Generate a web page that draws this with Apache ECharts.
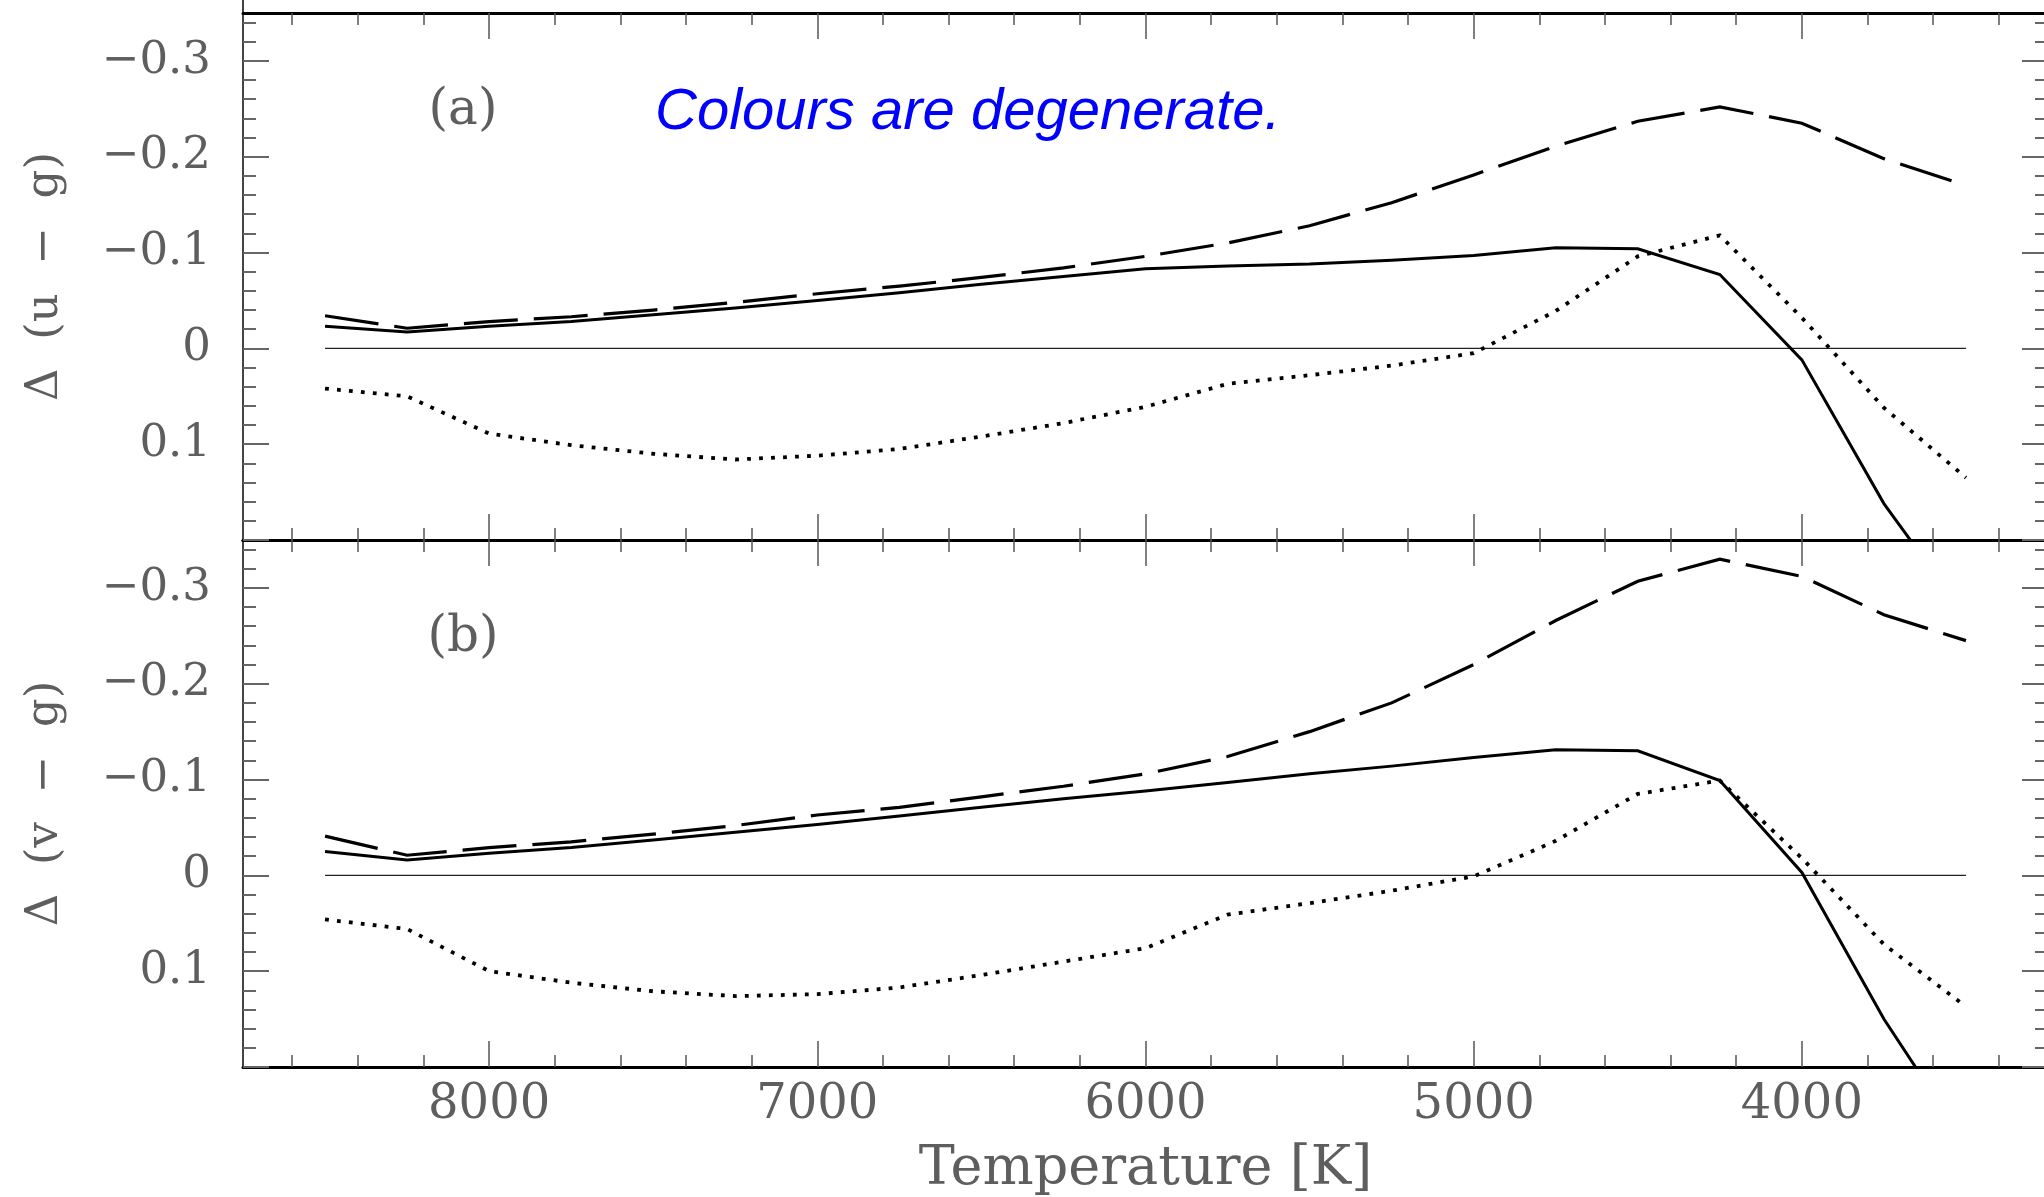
<!DOCTYPE html>
<html><head><meta charset="utf-8">
<script src="https://cdn.jsdelivr.net/npm/echarts@6/dist/echarts.min.js"></script>
<style>html,body{margin:0;padding:0;background:#fff}#c{width:2044px;height:1197px}</style>
</head><body><div id="c"></div>
<script>
// Temperatures of the model points [K]
const temps = [8500, 8250, 8000, 7750, 7500, 7250, 7000, 6750, 6500, 6250, 6000, 5750, 5500, 5250, 5000, 4750, 4500, 4250, 4000, 3750, 3500];

// Panel (a): Δ(u − g)
const ugSolid  = [-0.023, -0.017, -0.023, -0.028, -0.035, -0.042, -0.050, -0.058, -0.067, -0.075, -0.083, -0.086, -0.088, -0.092, -0.097, -0.105, -0.104, -0.077, 0.012, 0.162, 0.28];
const ugDashed = [-0.034, -0.021, -0.028, -0.033, -0.040, -0.048, -0.057, -0.065, -0.074, -0.084, -0.096, -0.110, -0.128, -0.152, -0.181, -0.211, -0.237, -0.252, -0.235, -0.198, -0.170];
const ugDotted = [0.042, 0.050, 0.089, 0.101, 0.110, 0.116, 0.112, 0.105, 0.092, 0.078, 0.061, 0.037, 0.028, 0.018, 0.005, -0.039, -0.096, -0.118, -0.032, 0.062, 0.135];

// Panel (b): Δ(v − g)
const vgSolid  = [-0.025, -0.016, -0.023, -0.029, -0.037, -0.045, -0.053, -0.062, -0.071, -0.080, -0.088, -0.097, -0.106, -0.114, -0.123, -0.131, -0.130, -0.099, -0.003, 0.150, 0.28];
const vgDashed = [-0.041, -0.021, -0.029, -0.035, -0.043, -0.052, -0.063, -0.071, -0.082, -0.093, -0.106, -0.124, -0.150, -0.180, -0.220, -0.266, -0.307, -0.330, -0.312, -0.272, -0.245];
const vgDotted = [0.046, 0.056, 0.100, 0.112, 0.121, 0.126, 0.124, 0.117, 0.104, 0.090, 0.076, 0.041, 0.029, 0.016, 0.001, -0.036, -0.085, -0.099, -0.018, 0.072, 0.137];

// Zero reference line extent
const zeroLineT = [8500, 3500];

// Ticks and labels
const xRange = [3250, 8750];
const yRange = [-0.35, 0.2];
const xMajorTicks = [4000, 5000, 6000, 7000, 8000];
const yMajorTicks = [-0.3, -0.2, -0.1, 0, 0.1, 0.2];
const yLabelTicks = [-0.3, -0.2, -0.1, 0, 0.1];
const panelLabels = ['(a)', '(b)'];
const yNames = ['Δ  (u  −  g)', 'Δ  (v  −  g)'];
const xName = 'Temperature [K]';
const note = 'Colours are degenerate.';

const xMinorTicks = [];
for (let t = 3400; t <= 8600; t += 200) if (t % 1000) xMinorTicks.push(t);
const yMinorTicks = [];
for (let i = -17; i <= 9; i++) if (i % 5) yMinorTicks.push(i / 50);

const FONT = 'DejaVu Serif';
const TXT = '#5e5e5e';
const grids = [
  {left: 243, top: 13, width: 1805, height: 527, containLabel: false, outerBoundsMode: 'none'},
  {left: 243, top: 540, width: 1805, height: 527, containLabel: false, outerBoundsMode: 'none'}
];

function mkX(g, pos, ticks, len, main, labels) {
  const a = {
    type: 'value', gridIndex: g, position: pos, min: xRange[0], max: xRange[1], inverse: true,
    axisLine: {show: main, onZero: false, lineStyle: {color: '#000', width: 3}},
    axisTick: {show: true, inside: true, length: len, customValues: ticks, lineStyle: {color: '#555', width: 1.5}},
    axisLabel: {show: false},
    splitLine: {show: false}
  };
  if (labels) {
    a.axisLabel = {show: true, customValues: xMajorTicks, margin: 15, fontFamily: FONT, fontSize: 48, color: TXT,
      formatter: v => String(v)};
    a.name = xName;
    a.nameLocation = 'middle';
    a.nameGap = 76;
    a.nameTextStyle = {fontFamily: FONT, fontSize: 54, color: TXT};
  }
  return a;
}
function mkY(g, pos, ticks, len, main, labels) {
  const a = {
    type: 'value', gridIndex: g, position: pos, min: yRange[0], max: yRange[1], inverse: true,
    axisLine: {show: main, onZero: false, lineStyle: {color: '#444', width: 2}},
    axisTick: {show: true, inside: true, length: len, customValues: ticks, lineStyle: {color: '#666', width: 2}},
    axisLabel: {show: false},
    splitLine: {show: false}
  };
  if (labels) {
    a.axisLabel = {show: true, customValues: yLabelTicks, margin: 32, fontFamily: FONT, fontSize: 45, color: TXT,
      formatter: v => (v < 0 ? '\u2212' + String(Math.abs(v)) : String(v))};
    a.name = yNames[g];
    a.nameLocation = 'middle';
    a.nameRotate = 90;
    a.nameGap = 175;
    a.nameTextStyle = {fontFamily: FONT, fontSize: 45, color: TXT};
  }
  return a;
}

const xAxes = [], yAxes = [];
for (let g = 0; g < 2; g++) {
  xAxes.push(mkX(g, 'bottom', xMajorTicks, 26, true, g === 1));
  xAxes.push(mkX(g, 'top', xMajorTicks, 26, true, false));
  xAxes.push(mkX(g, 'bottom', xMinorTicks, 12, false, false));
  xAxes.push(mkX(g, 'top', xMinorTicks, 12, false, false));
  yAxes.push(mkY(g, 'left', yMajorTicks, 26, true, true));
  yAxes.push(mkY(g, 'right', yMajorTicks, 26, true, false));
  yAxes.push(mkY(g, 'left', yMinorTicks, 13, false, false));
  yAxes.push(mkY(g, 'right', yMinorTicks, 13, false, false));
}

const panels = [[ugSolid, ugDashed, ugDotted], [vgSolid, vgDashed, vgDotted]];
const styles = [
  {type: 'solid', width: 3},
  {type: [54, 16], width: 3.2},
  {type: [3.8, 8.2], width: 3.8}
];
const series = [];
panels.forEach((arrs, p) => {
  series.push({
    type: 'line', xAxisIndex: p * 4, yAxisIndex: p * 4, symbol: 'none', silent: true, z: 1,
    lineStyle: {color: '#222', width: 1.2},
    data: zeroLineT.map(t => [t, 0])
  });
  arrs.forEach((arr, k) => {
    series.push({
      type: 'line', xAxisIndex: p * 4, yAxisIndex: p * 4, symbol: 'none', silent: true, z: 2, clip: true,
      lineStyle: Object.assign({color: '#000', cap: 'butt', join: 'miter'}, styles[k]),
      data: temps.map((t, i) => [t, arr[i]])
    });
  });
});

const chart = echarts.init(document.getElementById('c'), null, {renderer: 'canvas'});
chart.setOption({
  animation: false,
  backgroundColor: '#fff',
  grid: grids,
  xAxis: xAxes,
  yAxis: yAxes,
  series: series,
  graphic: [
    {type: 'line', shape: {x1: 243, y1: 0, x2: 243, y2: 13}, style: {stroke: '#444', lineWidth: 2}},
    {type: 'text', x: 463, y: 111, style: {text: panelLabels[0], font: '50px "DejaVu Serif"', fill: TXT, textAlign: 'center', textVerticalAlign: 'middle'}},
    {type: 'text', x: 463, y: 638, style: {text: panelLabels[1], font: '50px "DejaVu Serif"', fill: TXT, textAlign: 'center', textVerticalAlign: 'middle'}},
    {type: 'text', x: 655, y: 113, style: {text: note, font: 'italic 58px "Liberation Sans"', fill: '#0000ff', textAlign: 'left', textVerticalAlign: 'middle'}}
  ]
});
</script></body></html>
